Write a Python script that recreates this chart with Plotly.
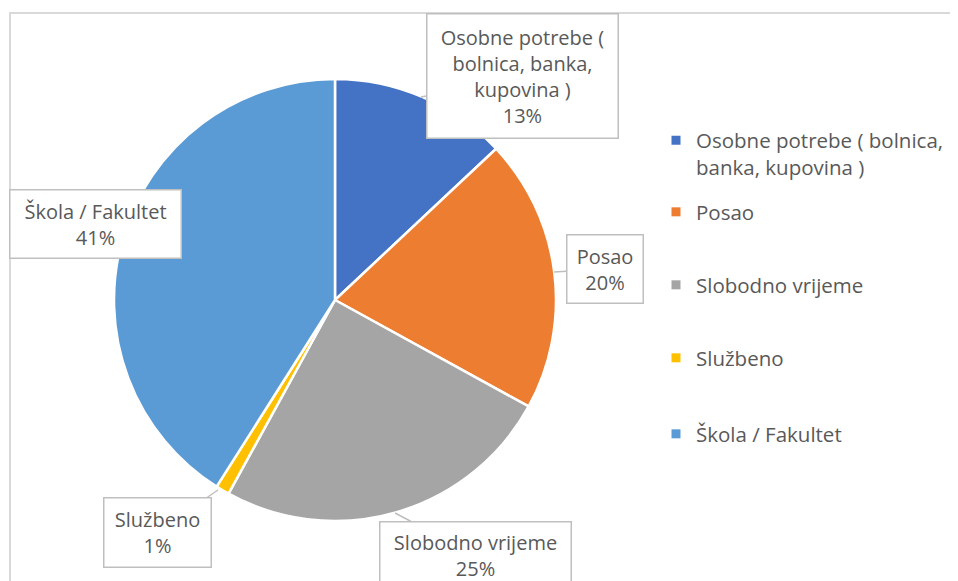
import plotly.graph_objects as go

# ---- data ----
categories = ["Osobne potrebe ( bolnica, banka, kupovina )", "Posao", "Slobodno vrijeme", "Službeno", "Škola / Fakultet"]
values = [13, 20, 25, 1, 41]
colors = ["#4472C4", "#ED7D31", "#A5A5A5", "#FFC000", "#5B9BD5"]
# wrapped versions of the category names
label_text = ["Osobne potrebe (<br>bolnica, banka,<br>kupovina )", "Posao", "Slobodno vrijeme", "Službeno", "Škola / Fakultet"]
legend_text = ["Osobne potrebe ( bolnica,<br>banka, kupovina )", "Posao", "Slobodno vrijeme", "Službeno", "Škola / Fakultet"]

# page has an 8px body margin: work in screen pixels and convert
OFF = 8
W, H = 950, 573
FONT = "Open Sans"
TXT = "#595959"

def px(x):
    return (x - OFF) / W

def py(y):
    return 1 - (y - OFF) / H

fig = go.Figure()
fig.add_trace(go.Pie(
    labels=categories, values=values, sort=False, direction="clockwise", rotation=0,
    marker=dict(colors=colors, line=dict(color="white", width=2.5)),
    textinfo="none", hoverinfo="label+percent", showlegend=False,
    domain=dict(x=[px(114), px(556)], y=[py(521), py(79)]),
))

# legend entries (one legend per entry to reproduce the spacing)
legend_y = [154, 212, 285, 358, 434]
legend_keys = ["legend", "legend2", "legend3", "legend4", "legend5"]
layout_legends = {}
for i, (name, col) in enumerate(zip(legend_text, colors)):
    fig.add_trace(go.Scatter(x=[None], y=[None], mode="markers", name=name,
                             marker=dict(symbol="square", size=9, color=col),
                             legend=legend_keys[i], showlegend=True, hoverinfo="skip"))
    layout_legends[legend_keys[i]] = dict(
        x=px(656), y=py(legend_y[i]), xanchor="left", yanchor="middle",
        font=dict(family=FONT, size=20.5, color=TXT), bgcolor="rgba(0,0,0,0)",
        itemwidth=30, valign="top" if i == 0 else "middle", borderwidth=0,
    )

# data labels as callout boxes
total = sum(values)
boxes = [  # (center x, center y, width, height, tip x, tip y, arrow)
    (522, 76.5, 190, 123, 421, 97, True),
    (604.5, 268.5, 75, 67, 554, 272, True),
    (475, 555, 190, 66, 395, 513, True),
    (157, 532, 106, 68, 218, 490, True),
    (95, 223.5, 170, 67, 0, 0, False),
]
annotations = []
for lbl, v, b in zip(label_text, values, boxes):
    cx, cy, bw, bh, tx, ty, arrow = b
    text = f"{lbl}<br>{round(v / total * 100)}%"
    common = dict(text=text, xref="paper", yref="paper", width=bw, height=bh,
                  bgcolor="white", bordercolor="#BFBFBF", borderwidth=1.5, borderpad=0,
                  font=dict(family=FONT, size=20, color=TXT), align="center", valign="middle")
    if arrow:
        annotations.append(dict(x=px(tx), y=py(ty), ax=cx - tx, ay=cy - ty, showarrow=True,
                                arrowhead=0, arrowwidth=1.5, arrowcolor="#BFBFBF", **common))
    else:
        annotations.append(dict(x=px(cx), y=py(cy), xanchor="center", yanchor="middle",
                                showarrow=False, **common))

fig.update_layout(
    width=W, height=H, margin=dict(l=0, r=0, t=0, b=0),
    paper_bgcolor="white", plot_bgcolor="white",
    xaxis=dict(visible=False), yaxis=dict(visible=False),
    annotations=annotations,
    shapes=[dict(type="rect", xref="paper", yref="paper", x0=px(10), x1=1.02, y0=-0.02, y1=py(13),
                 line=dict(color="#D9D9D9", width=2), fillcolor="rgba(0,0,0,0)", layer="below")],
    **layout_legends,
)

fig.write_html("out.html")
